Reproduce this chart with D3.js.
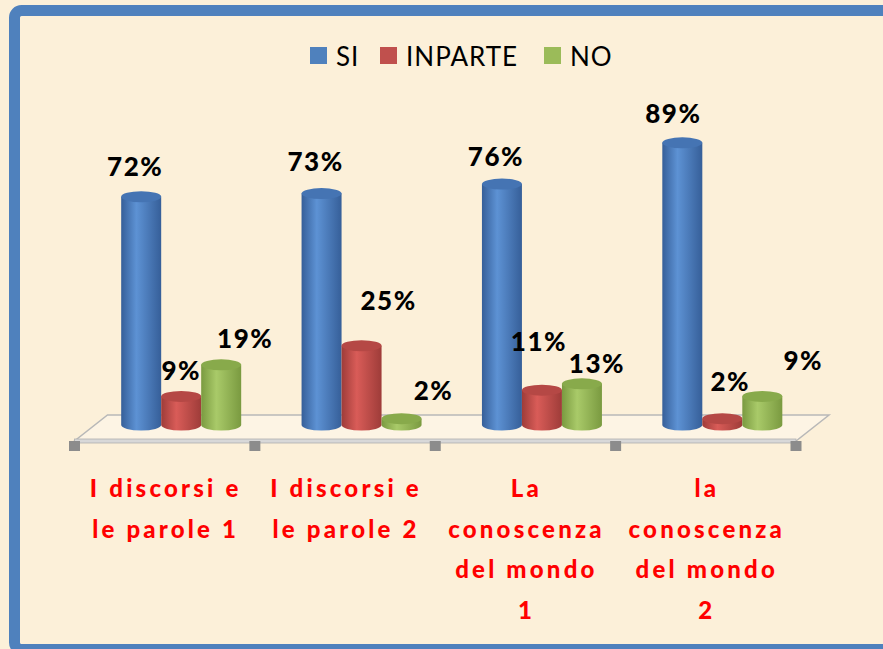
<html>
<head>
<script src="https://d3js.org/d3.v7.min.js"></script>
<style>
  body { margin: 0; background: #fcf0d9; }
  .legend text { font-family: Lato, sans-serif; font-size: 26px; fill: #000; letter-spacing: 1px; }
  .vlabel { font-family: Lato, sans-serif; font-size: 26px; font-weight: 900; fill: #000; letter-spacing: 1.5px; }
  .cat { font-family: Lato, sans-serif; font-size: 24px; font-weight: 900; fill: #ff0000; letter-spacing: 3.2px; }
</style>
</head>
<body>
<div id="chart"></div>
<script>
// data
const categories = [
  ["I discorsi e", "le parole 1"],
  ["I discorsi e", "le parole 2"],
  ["La", "conoscenza", "del mondo", "1"],
  ["la", "conoscenza", "del mondo", "2"]
];
const seriesNames = ["SI", "INPARTE", "NO"];
const siValues = [72, 73, 76, 89];
const inParteValues = [9, 25, 11, 2];
const noValues = [19, 2, 13, 9];

// label nudges (layout only, excel moved some labels around)
const labelNudge = [
  [[-6, -24], [-6, -26], [-6, -22], [-9, -23]],
  [[0, -20], [27, -39], [-3, -43], [8, -31]],
  [[24, -20], [32, -22], [15, -14], [41, -30]]
];

const W = 883, H = 649;
const colors = [
  { dark: "#365f99", light: "#5d92d4", top: "#4574b3" },
  { dark: "#9e3c39", light: "#d95c58", top: "#b54845" },
  { dark: "#7a9a40", light: "#a9ca69", top: "#88aa4b" }
];
const values = [siValues, inParteValues, noValues];

const svg = d3.select("#chart").append("svg")
  .attr("width", W).attr("height", H);

// border
svg.append("rect")
  .attr("x", 14.5).attr("y", 10.5)
  .attr("width", 900).attr("height", 639)
  .attr("rx", 7)
  .attr("fill", "#fcf0d9")
  .attr("stroke", "#4f81bd")
  .attr("stroke-width", 11);

const defs = svg.append("defs");
colors.forEach((c, i) => {
  const g = defs.append("linearGradient").attr("id", "grad" + i)
    .attr("x1", "0%").attr("x2", "100%").attr("y1", "0%").attr("y2", "0%");
  g.append("stop").attr("offset", "0%").attr("stop-color", c.dark);
  g.append("stop").attr("offset", "38%").attr("stop-color", c.light);
  g.append("stop").attr("offset", "100%").attr("stop-color", c.dark);
});

// geometry
const frontY = 441, backY = 415, depthDx = 33;
const base = 425;
const x = d3.scaleBand().domain(d3.range(categories.length)).range([74.5, 796]);
const inner = d3.scaleBand().domain(seriesNames).range([0, 120]);
const y = d3.scaleLinear().domain([0, 100]).range([base, base - 317]);

// floor
const x0 = x.range()[0], x1 = x.range()[1];
svg.append("path")
  .attr("d", `M${x0},${frontY} L${x1},${frontY} L${x1 + depthDx},${backY} L${x0 + depthDx},${backY} Z`)
  .attr("fill", "rgba(255,255,255,0.3)")
  .attr("stroke", "#b8b8b8")
  .attr("stroke-width", 1.5);
svg.append("rect")
  .attr("x", x0).attr("y", frontY - 2)
  .attr("width", x1 - x0).attr("height", 4)
  .attr("fill", "#d8d8d8").attr("stroke", "#b0b0b0").attr("stroke-width", 0.8);

// tick squares
const tickX = x.domain().map(d => x(d)).concat([x1]);
svg.selectAll(".tick").data(tickX).enter().append("rect")
  .attr("x", d => d - 5.5).attr("y", 441)
  .attr("width", 11).attr("height", 10)
  .attr("fill", "#8c8c8c");

// bars (cylinders)
const ry = 5.5;
seriesNames.forEach((s, si) => {
  const g = svg.append("g");
  values[si].forEach((v, ci) => {
    const bx = x(ci) + x.bandwidth() / 2 + depthDx / 2 - 60 + inner(s);
    const w = inner.bandwidth();
    const yt = y(v);
    g.append("path")
      .attr("d", `M${bx},${yt} L${bx},${base} A${w / 2},${ry} 0 0 0 ${bx + w},${base} L${bx + w},${yt} Z`)
      .attr("fill", `url(#grad${si})`);
    g.append("ellipse")
      .attr("cx", bx + w / 2).attr("cy", yt)
      .attr("rx", w / 2).attr("ry", ry)
      .attr("fill", colors[si].top);
  });
});

// value labels
seriesNames.forEach((s, si) => {
  values[si].forEach((v, ci) => {
    const cx = x(ci) + x.bandwidth() / 2 + depthDx / 2 - 60 + inner(s) + inner.bandwidth() / 2;
    const n = labelNudge[si][ci];
    svg.append("text").attr("class", "vlabel")
      .attr("x", cx + n[0]).attr("y", y(v) - ry + n[1])
      .attr("dy", "0.35em")
      .attr("text-anchor", "middle")
      .text(v + "%");
  });
});

// category labels
categories.forEach((lines, ci) => {
  const t = svg.append("text").attr("class", "cat")
    .attr("text-anchor", "middle");
  lines.forEach((ln, li) => {
    t.append("tspan")
      .attr("x", x(ci) + x.bandwidth() / 2 + 1)
      .attr("y", 497 + li * 40.5)
      .text(ln);
  });
});

// legend
const legend = svg.append("g").attr("class", "legend");
const legX = [310, 380, 544];
seriesNames.forEach((s, i) => {
  legend.append("rect")
    .attr("x", legX[i]).attr("y", 47)
    .attr("width", 17).attr("height", 17)
    .attr("fill", i === 0 ? "#4f81bd" : i === 1 ? "#c0504d" : "#9bbb59");
  legend.append("text")
    .attr("x", legX[i] + 26).attr("y", 66)
    .text(s);
});
</script>
</body>
</html>
